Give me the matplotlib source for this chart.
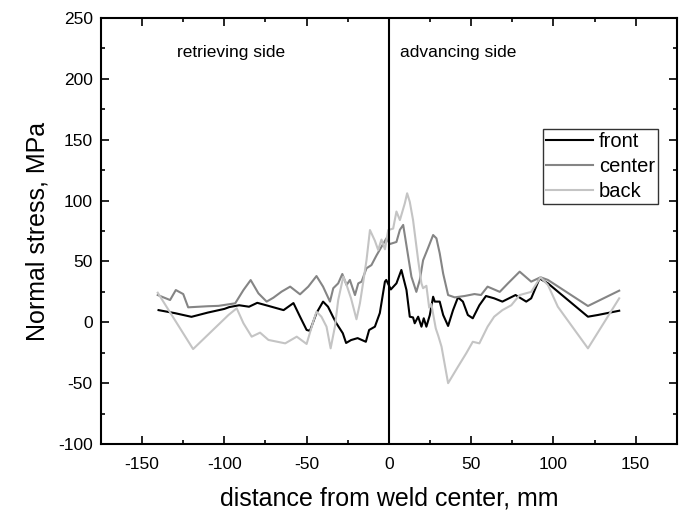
import matplotlib
matplotlib.use("Agg")
import matplotlib.pyplot as plt
from matplotlib.ticker import MultipleLocator

plt.rcParams['font.family'] = ['Liberation Sans', 'DejaVu Sans']
plt.rcParams['axes.unicode_minus'] = False

front_x = [-140, -130, -120, -110, -100, -97, -91, -85, -80, -73, -64, -58, -54, -50, -48, -44, -40, -37, -34, -32,
           -28, -26, -23, -19, -14, -12, -8.5, -5.5, -2.4, -1.6, 1.2, 4.6, 7.6, 10.7, 12.7, 14.7, 15.7, 17.8, 19.8,
           21.2, 22.8, 24.9, 26.9, 27.9, 30.9, 33, 36, 39, 42, 45, 48, 51, 55, 59, 64, 69, 77, 83.5, 86.5, 91.6,
           96.7, 121, 127, 140]
front_y = [10, 7.5, 4.5, 8, 11, 12.5, 14, 12.8, 16, 13.4, 10, 15.8, 4.6, -6.3, -7, 7.6, 17, 12.8, 4.6, -0.6,
           -9, -17, -14.6, -13, -16, -6.3, -3.6, 7.6, 33.4, 34.8, 27, 32, 43, 26.5, 4.6, 4, -0.8, 4.6, -3.6,
           3.3, -3.6, 6, 21, 17, 17, 6, -3, 10, 20.5, 17, 6, 3.3, 14, 21.6, 19.7, 17, 22.4, 17, 19.7, 36,
           32, 4.6, 6, 9.5]

center_x = [-140.5, -133, -129.5, -125, -122, -110, -103.6, -93.4, -88.4, -84, -79.3, -74.3, -70.2, -65.2, -60,
            -54, -49, -44, -40, -35.8, -33.8, -30.8, -28.3, -25.7, -23.7, -20.6, -18.6, -16.6, -13.6, -10.6, -7.5,
            -4.5, -1.5, 0.6, 4.6, 6.7, 8.7, 10.7, 13.7, 16.7, 18.8, 20.8, 23.8, 26.9, 28.9, 30.9, 33, 36, 40, 46,
            52, 56, 60, 67.4, 72.4, 79.5, 86.5, 92.2, 96.7, 121, 140]
center_y = [22.4, 18.3, 26.5, 23.2, 12.3, 13.2, 13.5, 15.6, 26.5, 34.7, 23.8, 17, 20.2, 25.2, 29.3,
            23, 29.3, 38, 29.3, 17, 28, 32, 39.7, 30.6, 34.8, 22.4, 32, 33.4, 44.4, 47, 55,
            62, 69, 64.3, 66, 76, 80, 63, 37.5, 25, 34.8, 51, 61, 71.7, 69, 56.7, 40, 22.4, 20.5, 21.6,
            23.2, 22.4, 29.3, 25, 32, 41.6, 33.4, 37, 34.8, 13.4, 26]

back_x = [-140.5, -119, -97.5, -92.5, -88.4, -83.4, -78.3, -73.2, -63, -56, -50, -46, -44, -41, -37.9, -35.4,
          -32.8, -30.8, -27.7, -25.7, -23, -19.7, -17.6, -15.6, -13.6, -11.5, -8.5, -6.5, -4.5, -2.4, -0.4, 2.6,
          4.6, 6.7, 9.7, 11.1, 12.7, 14.7, 17.8, 19.8, 20.8, 22.8, 24.5, 25.8, 28.5, 30, 32, 36, 42, 47, 51, 55,
          60, 64, 69, 74.4, 79.5, 86.5, 92.2, 96.7, 102.7, 121, 140]
back_y = [24.3, -22, 6, 11.5, -0.8, -11.8, -8.5, -14.5, -17.3, -11.8, -17.8, 0.5, 8.7, 4.6, -3.6, -21.4,
          -3.6, 18.3, 37.5, 30.6, 19.7, 2.5, 15.6, 33, 51, 75.8, 67, 59.4, 68, 60, 75.8, 77,
          91, 84, 97.8, 106, 99, 84, 51, 32, 28, 30, 12, 15, -5, -11, -20, -50, -36.5, -25.5, -16, -17.3,
          -3.6, 4.6, 10, 14, 22.4, 25, 37, 30.6, 12.8, -21.4, 19.7]

x_ticks = [-150, -100, -50, 0, 50, 100, 150]
y_ticks = [-100, -50, 0, 50, 100, 150, 200, 250]

fig = plt.figure(figsize=(6.85, 5.22), dpi=100)
ax = fig.add_axes([0.1474, 0.1494, 0.8406, 0.8161])

ax.plot(front_x, front_y, color='black', lw=1.5, label='front')
ax.plot(center_x, center_y, color='#858585', lw=1.5, label='center')
ax.plot(back_x, back_y, color='#c4c4c4', lw=1.5, label='back')
ax.axvline(0, color='black', lw=1.5)

ax.set_xlim(-175, 175)
ax.set_ylim(-100, 250)
ax.set_xticks(x_ticks)
ax.set_yticks(y_ticks)
ax.xaxis.set_minor_locator(MultipleLocator(25))
ax.yaxis.set_minor_locator(MultipleLocator(25))
ax.tick_params(which='both', direction='in', top=True, right=True, width=1.2)
ax.tick_params(which='major', length=6, labelsize=12.5)
ax.tick_params(which='minor', length=3)
ax.tick_params(axis='x', which='major', pad=9)
ax.tick_params(axis='y', which='major', pad=6)
for s in ax.spines.values():
    s.set_linewidth(1.5)

ax.set_xlabel('distance from weld center, mm', fontsize=18, labelpad=11)
ax.set_ylabel('Normal stress, MPa', fontsize=18, labelpad=6)

ax.text(-95.7, 222, 'retrieving side', fontsize=12.5, ha='center', va='center')
ax.text(42, 222, 'advancing side', fontsize=12.5, ha='center', va='center')

leg = ax.legend(loc='upper right', bbox_to_anchor=(0.967, 0.739), fontsize=14.5, frameon=True,
                fancybox=False, edgecolor='black', handlelength=2.3, handletextpad=0.3,
                borderpad=0.15, labelspacing=0.3, borderaxespad=0)
leg.get_frame().set_linewidth(1.0)

fig.savefig('out.png', dpi=100)
